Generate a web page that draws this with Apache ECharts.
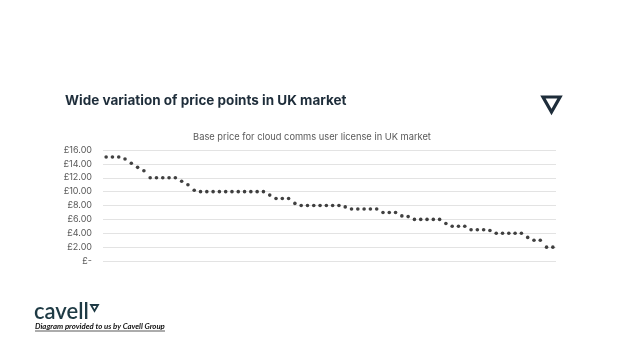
<!DOCTYPE html>
<html>
<head>
    <meta charset="utf-8">
    <title>Wide variation of price points in UK market</title>
    <script src="https://cdn.jsdelivr.net/npm/echarts@6/dist/echarts.min.js"></script>
    <style>
        body { margin: 0; background: #fff; }
    </style>
</head>
<body>
    <div id="main" style="width: 624px;height:351px;"></div>
    <script type="text/javascript">
        // one entry per provider, sorted high to low
        var prices = [
            15, 15, 15, 14.7, 14.1, 13.5, 13,
            12, 12, 12, 12, 12, 11.5, 11, 10.2,
            10, 10, 10, 10, 10, 10, 10, 10, 10, 10, 10,
            9.5, 9, 9, 9, 8.3,
            8, 8, 8, 8, 8, 8, 8, 7.8,
            7.5, 7.5, 7.5, 7.5, 7.5, 7, 7, 7, 6.5, 6.4,
            6, 6, 6, 6, 6, 5.4, 5, 5, 5,
            4.5, 4.5, 4.5, 4.4, 4, 4, 4, 4, 4, 3.4, 3, 3, 2, 2
        ];
        var categories = prices.map(function (v, i) { return 'P' + (i + 1); });
        var yTicks = { min: 0, max: 16, step: 2 };

        var myChart = echarts.init(document.getElementById('main'));

        var option = {
            backgroundColor: '#ffffff',
            animation: false,
            title: [{
                text: 'Wide variation of price points in UK market',
                left: 60,
                top: 89,
                textStyle: { color: '#1e2d3a', fontSize: 13.5, fontWeight: 'bold', fontFamily: 'Inter' }
            }, {
                text: 'Base price for cloud comms user license in UK market',
                left: 'center',
                top: 128,
                textStyle: { color: '#595959', fontSize: 9.3, fontWeight: 'normal', fontFamily: 'Inter' }
            }],
            grid: { left: 103, right: 68, top: 150, bottom: 90, containLabel: false },
            xAxis: {
                type: 'category',
                data: categories,
                boundaryGap: true,
                axisLine: { show: false },
                axisTick: { show: false },
                axisLabel: { show: false }
            },
            yAxis: {
                type: 'value',
                min: yTicks.min,
                max: yTicks.max,
                interval: yTicks.step,
                axisLine: { show: false },
                axisTick: { show: false },
                splitLine: { lineStyle: { color: '#e3e3e3', width: 1 } },
                axisLabel: {
                    color: '#595959',
                    fontSize: 9,
                    fontFamily: 'Inter',
                    margin: 11,
                    formatter: function (v) { return v === 0 ? '£-' : '£' + v.toFixed(2); }
                }
            },
            series: [{
                type: 'scatter',
                data: prices,
                symbol: 'circle',
                symbolSize: 3.6,
                itemStyle: { color: '#111111' }
            }],
            graphic: [{
                // triangle mark, top right
                type: 'polygon',
                shape: { points: [[543, 97], [560, 97], [551.5, 112]] },
                style: { fill: 'none', stroke: '#1e2d3a', lineWidth: 3.2, lineJoin: 'miter' }
            }, {
                type: 'text',
                left: 34,
                top: 301,
                style: { text: 'cavell', fill: '#1e3a44', fontSize: 22, fontFamily: 'Lato', fontWeight: 600 }
            }, {
                type: 'polygon',
                shape: { points: [[91, 305], [98, 305], [94.5, 311]] },
                style: { fill: 'none', stroke: '#1e3a44', lineWidth: 1.8 }
            }, {
                type: 'text',
                left: 35,
                top: 322,
                style: { text: 'Diagram provided to us by Cavell Group', fill: '#111111', fontSize: 7.8, fontFamily: 'Lato', fontWeight: 'bold', fontStyle: 'italic' }
            }, {
                type: 'line',
                shape: { x1: 35, y1: 331, x2: 165, y2: 331 },
                style: { stroke: '#111111', lineWidth: 0.7 }
            }]
        };

        myChart.setOption(option);
    </script>
</body>
</html>
